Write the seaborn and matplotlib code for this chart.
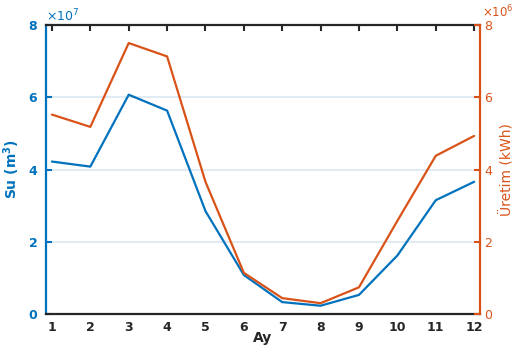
import matplotlib
matplotlib.use("Agg")
import matplotlib.pyplot as plt
import seaborn as sns
import pandas as pd
from matplotlib.ticker import ScalarFormatter

months = list(range(1, 13))
su = [4.22e7, 4.08e7, 6.07e7, 5.63e7, 2.85e7, 1.08e7, 0.33e7, 0.23e7, 0.53e7, 1.62e7, 3.15e7, 3.66e7]
uretim = [5.52e6, 5.18e6, 7.50e6, 7.13e6, 3.66e6, 1.14e6, 0.44e6, 0.30e6, 0.74e6, 2.58e6, 4.38e6, 4.93e6]
xticklabels = [str(m) for m in months]

df = pd.DataFrame({"Ay": months, "Su": su, "Uretim": uretim})

sns.set_theme(style="white")
plt.rcParams["font.family"] = ["DejaVu Sans"]

BLUE = "#0072BD"
ORANGE = "#D95319"
DARK = "#262626"

fig, ax = plt.subplots(figsize=(5.14, 3.47), dpi=100)
fig.subplots_adjust(left=0.0895, right=0.934, bottom=0.095, top=0.928)
ax2 = ax.twinx()

sns.lineplot(data=df, x="Ay", y="Su", ax=ax, color=BLUE, linewidth=1.6)
sns.lineplot(data=df, x="Ay", y="Uretim", ax=ax2, color=ORANGE, linewidth=1.6)

ax.set_xlim(0.845, 12.155)
ax.set_ylim(0, 8e7)
ax2.set_ylim(0, 8e6)
ax.set_xticks(months)
ax.set_xticklabels(xticklabels, fontweight="bold", color=DARK, fontsize=9)
ax.set_yticks([0, 2e7, 4e7, 6e7, 8e7])
ax2.set_yticks([0, 2e6, 4e6, 6e6, 8e6])

for a in (ax, ax2):
    fmt = ScalarFormatter(useMathText=True)
    fmt.set_powerlimits((0, 0))
    a.yaxis.set_major_formatter(fmt)

ax.grid(axis="y", color="#dce7f2", linewidth=1.2)
ax.set_axisbelow(True)

ax.tick_params(axis="y", colors=BLUE, direction="in", length=4, width=1.5, labelsize=9, pad=6)
for lab in ax.get_yticklabels():
    lab.set_fontweight("bold")
ax.yaxis.get_offset_text().set_color(BLUE)
ax.yaxis.get_offset_text().set_fontsize(9)
ax.tick_params(axis="x", colors=DARK, direction="in", length=4, width=1.5, top=True, labelsize=9, pad=5)

ax2.tick_params(axis="y", colors=ORANGE, direction="in", length=4, width=1.5, labelsize=9, pad=3)

ax.spines["left"].set_color(BLUE)
ax.spines["left"].set_linewidth(1.6)
ax.spines["right"].set_visible(False)
ax.spines["top"].set_color(DARK)
ax.spines["top"].set_linewidth(1.6)
ax.spines["bottom"].set_color(DARK)
ax.spines["bottom"].set_linewidth(1.6)
for s in ("left", "top", "bottom"):
    ax2.spines[s].set_visible(False)
ax2.spines["right"].set_color(ORANGE)
ax2.spines["right"].set_linewidth(1.6)

ax.set_xlabel("Ay", fontweight="bold", color=DARK, fontsize=10, labelpad=-2)
ax.set_ylabel("Su (m$^\\mathbf{3}$)", fontweight="bold", color=BLUE, fontsize=10, labelpad=4)
ax2.set_ylabel("Üretim (kWh)", color=ORANGE, fontsize=10, labelpad=5)

# place the right-axis multiplier above the tick label "8"
fig.canvas.draw()
off = ax2.yaxis.get_offset_text().get_text()
ax2.yaxis.get_offset_text().set_visible(False)
ax2.text(1.005, 1.016, off, transform=ax2.transAxes, ha="left", va="bottom",
         color=ORANGE, fontsize=8.5)

fig.savefig("out.png", dpi=100)
